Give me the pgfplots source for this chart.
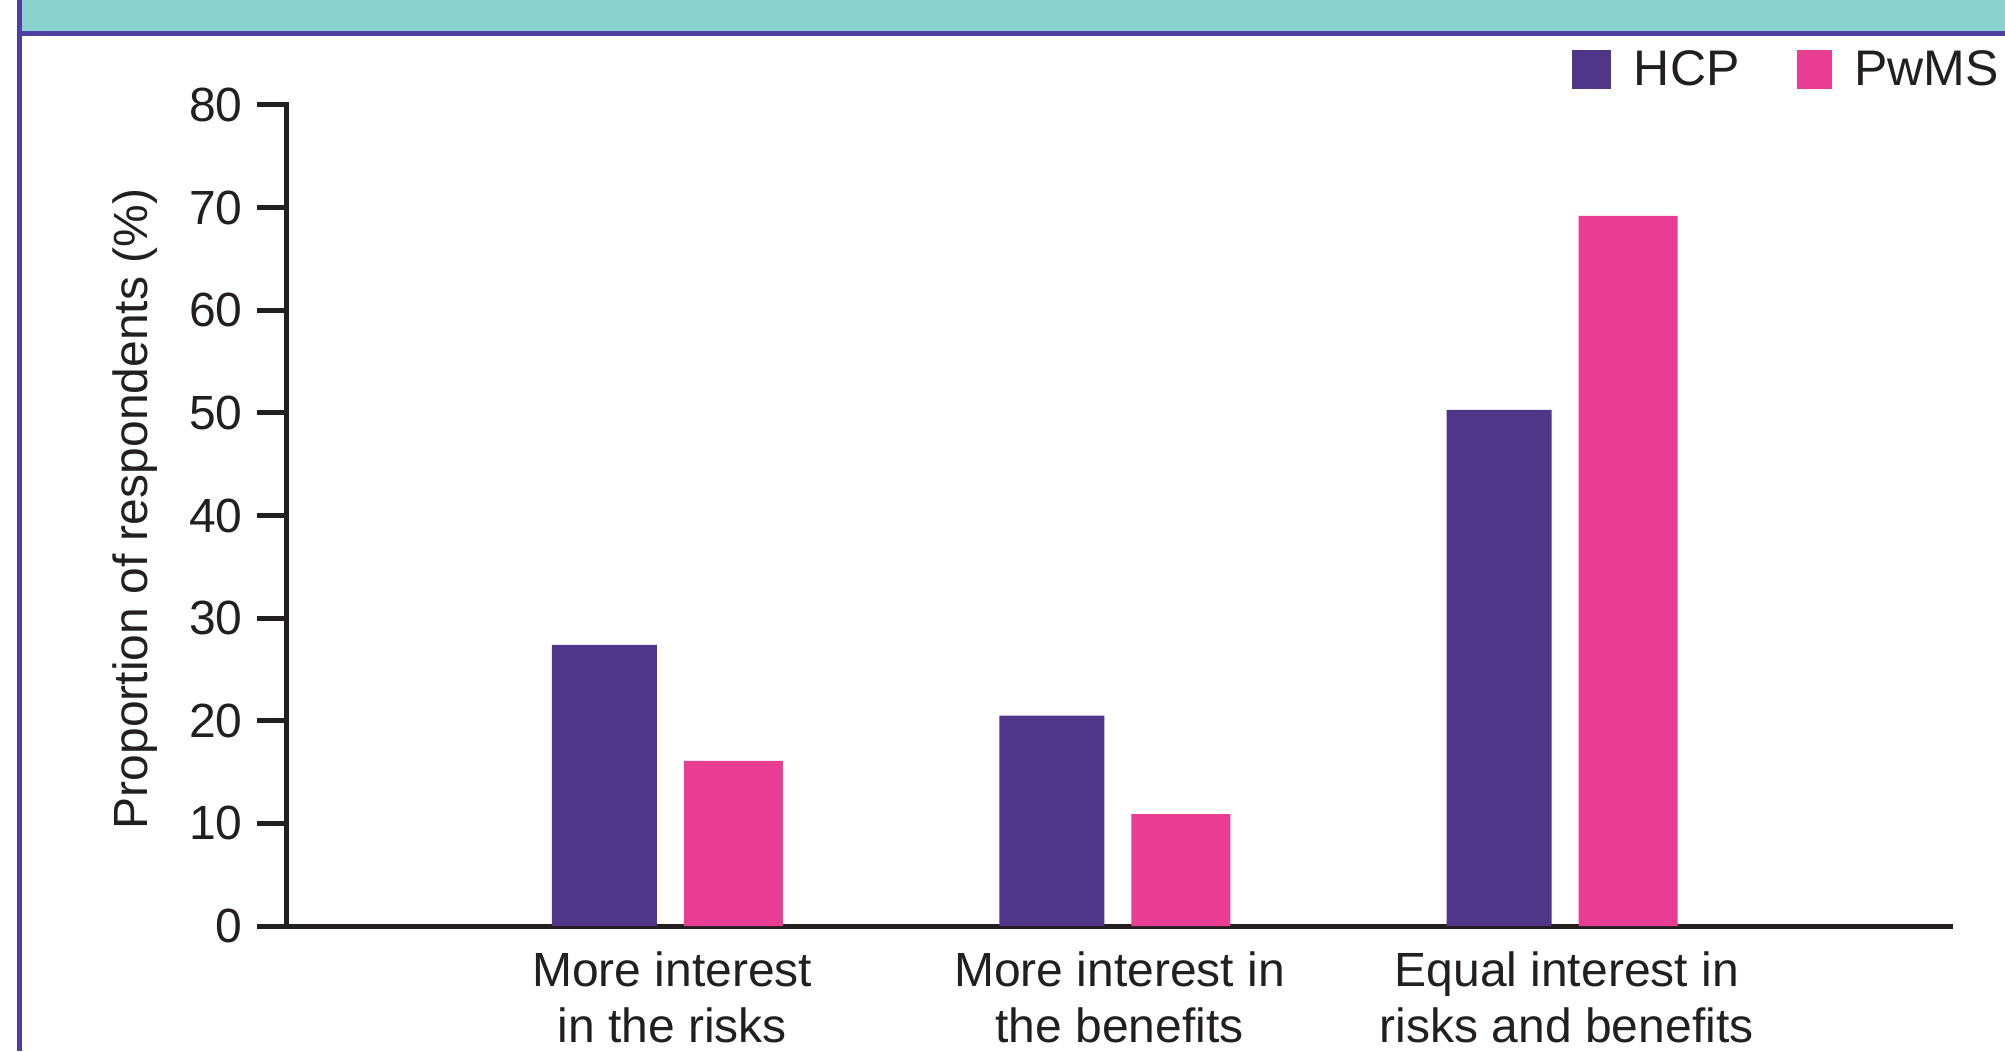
\documentclass[border=0pt]{standalone}
\usepackage{fontspec}
\setmainfont{Liberation Sans}
\usepackage{pgfplots}
\usepackage{pgfplotstable}
\pgfplotsset{compat=1.18}

\definecolor{hcp}{HTML}{4F3688}
\definecolor{pwms}{HTML}{E93C93}
\definecolor{band}{HTML}{8AD2CE}
\definecolor{frame}{HTML}{4E40A0}
\definecolor{ink}{HTML}{231F20}

% Share of respondents (%) per answer: 0 = risks, 1 = benefits, 2 = equal
\pgfplotstableread{
pos share
0 27.4
1 20.5
2 50.3
}\hcptable
\pgfplotstableread{
pos share
0 16.1
1 10.9
2 69.2
}\pwmstable

\begin{document}
\begin{tikzpicture}
\useasboundingbox (0,0) rectangle (1002.5pt,525.5pt);
% panel header band and frame
\fill[band] (11pt,510pt) rectangle (1002.5pt,525.5pt);
\fill[frame] (8.5pt,507.5pt) rectangle (1002.5pt,510pt);
\fill[frame] (8.5pt,0pt) rectangle (11pt,525.5pt);

\begin{axis}[
  at={(143pt,62.5pt)}, anchor=south west,
  scale only axis, width=832pt, height=410.5pt,
  xmin=-0.8563, xmax=2.8642, ymin=0, ymax=80,
  axis x line*=bottom, axis y line*=left,
  axis line style={ink, line width=2.5pt, line cap=rect},
  ytick={0,10,...,80},
  xtick={0,1,2},
  xticklabels={More interest\\in the risks, More interest in\\the benefits, Equal interest in\\risks and benefits},
  x tick style={draw=none},
  y tick style={ink, line width=2.5pt},
  tick align=outside,
  ytick pos=left,
  major tick length=14.5pt,
  /pgf/number format/assume math mode=true,
  yticklabel style={font=\fontsize{24}{28}\selectfont, text=ink, anchor=east, inner sep=0pt, xshift=-7pt},
  xticklabel style={font=\fontsize{24}{28}\selectfont, text=ink, align=center, anchor=north, inner sep=0pt, yshift=2pt, xshift=1.6pt},
  every axis y label/.style={at={(axis description cs:-0.0905,0.508)}, rotate=90, anchor=center, inner sep=0pt, font=\fontsize{24}{28}\selectfont, text=ink},
  ylabel={Proportion of respondents (\%)},
  legend style={at={(0.7728,1.0432)}, anchor=west, draw=none, fill=none, inner sep=0pt, outer sep=0pt,
    font=\fontsize{25}{30}\selectfont, text=ink,
    nodes={inner sep=0pt},
    /tikz/every odd column/.append style={column sep=11.5pt},
    /tikz/every even column/.append style={column sep=28.5pt}},
  legend columns=2,
  legend cell align=left,
  clip=false,
]
\addplot[ybar, bar width=52.5pt, bar shift=-32.25pt, fill=hcp, draw=none,
  legend image code/.code={\fill[hcp] (0pt,-9.75pt) rectangle (19.5pt,9.75pt);}]
  table[x=pos, y=share] {\hcptable};
\addlegendentry{HCP}
\addplot[ybar, bar width=49.5pt, bar shift=32.25pt, fill=pwms, draw=none,
  legend image code/.code={\fill[pwms] (0pt,-9.75pt) rectangle (17.5pt,9.75pt);}]
  table[x=pos, y=share] {\pwmstable};
\addlegendentry{PwMS}
\end{axis}
\end{tikzpicture}
\end{document}
